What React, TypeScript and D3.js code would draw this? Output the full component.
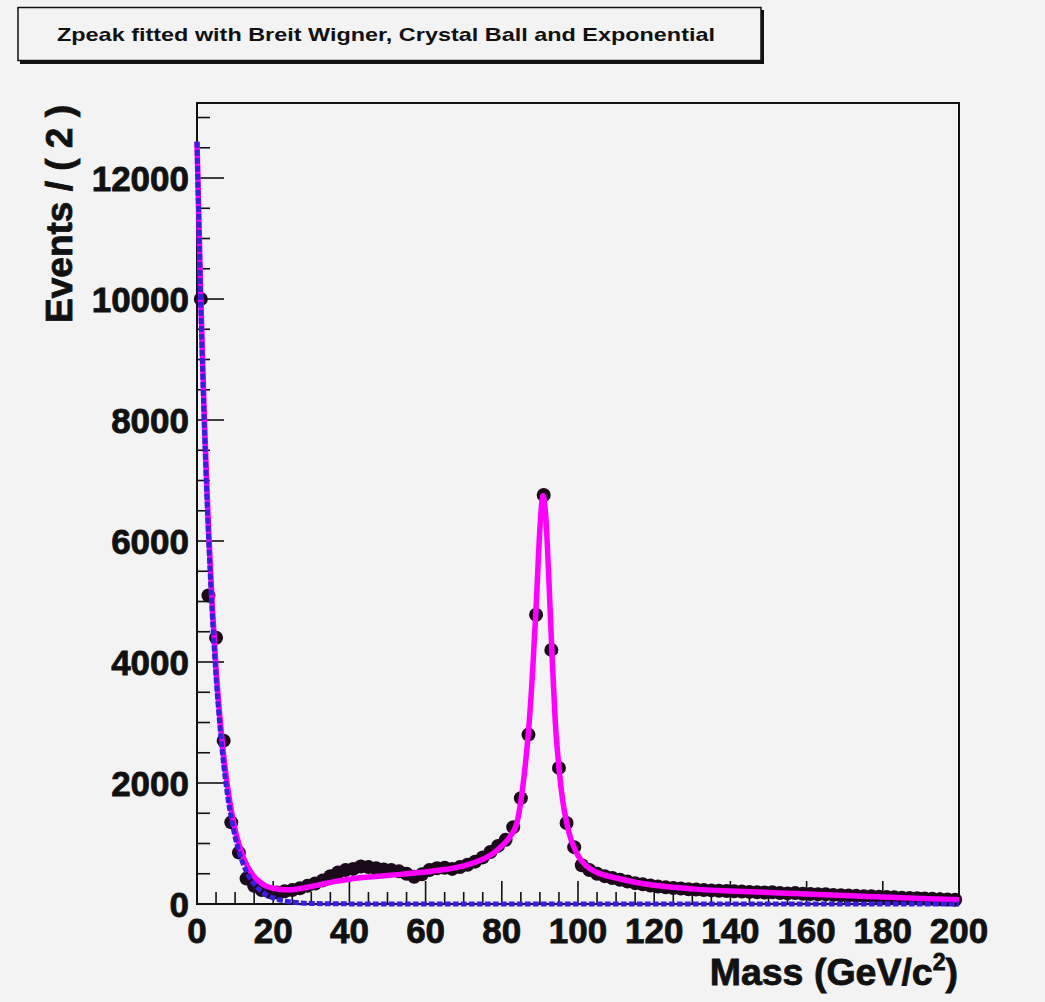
import React from 'react';
import * as d3 from 'd3';

// histogram: 100 bins of width 2 GeV, counts
const binWidth = 2;
const counts = [
  10000, 5100, 4400, 2700, 1350, 850, 420, 300, 230, 200,
  190, 210, 230, 260, 300, 340, 390, 460, 520, 560,
  580, 620, 610, 590, 570, 560, 540, 500, 450, 490,
  560, 590, 600, 580, 610, 650, 700, 770, 860, 960,
  1060, 1270, 1750, 2800, 4780, 6760, 4200, 2250, 1340, 940,
  640, 560, 500, 460, 430, 400, 370, 345, 325, 305,
  290, 275, 265, 255, 245, 240, 230, 225, 220, 215,
  210, 205, 200, 195, 190, 195, 180, 175, 180, 170,
  165, 160, 160, 150, 145, 140, 135, 130, 130, 120,
  115, 110, 105, 100, 95, 90, 85, 80, 75, 70,
];

// total fit (magenta) sampled along the mass axis
const totalFit: [number, number][] = [
  [0, 12600], [1, 10000], [2, 7900], [3, 6250], [4, 4950], [5, 3900], [6, 3100],
  [7, 2450], [8, 1950], [9, 1550], [10, 1230], [11, 990], [12, 800], [13, 650],
  [14, 540], [15, 450], [16, 390], [17, 340], [18, 300], [20, 260], [22, 240],
  [24, 235], [26, 245], [28, 265], [30, 290], [33, 330], [36, 370], [40, 410],
  [45, 445], [50, 470], [55, 500], [60, 530], [65, 570], [70, 630], [73, 690],
  [76, 770], [78, 850], [80, 960], [82, 1100], [84, 1350], [85, 1700], [86, 2200],
  [87, 2850], [88, 3750], [89, 4900], [90, 6200], [90.8, 6750], [91.6, 6350],
  [92.4, 5300], [93.2, 4100], [94, 3050], [95, 2250], [96, 1700], [97, 1350],
  [98, 1100], [99, 930], [100, 800], [102, 640], [105, 520], [110, 430],
  [115, 360], [120, 310], [130, 250], [140, 215], [150, 190], [160, 165],
  [170, 140], [180, 115], [190, 90], [200, 70],
];

// exponential background component (blue dashed)
const bkgFit: [number, number][] = [
  [0, 12600], [1, 9900], [2, 7750], [3, 6100], [4, 4800], [5, 3750], [6, 2950],
  [7, 2300], [8, 1800], [9, 1420], [10, 1110], [11, 870], [12, 680], [14, 420],
  [16, 260], [18, 160], [20, 100], [23, 50], [26, 25], [30, 10], [40, 2],
  [60, 0], [200, 0],
];

const xTicks = [0, 20, 40, 60, 80, 100, 120, 140, 160, 180, 200];
const yTicks = [0, 2000, 4000, 6000, 8000, 10000, 12000];
const title = 'Zpeak fitted with Breit Wigner, Crystal Ball and Exponential';

const font = '"Liberation Sans", Arial, Helvetica, sans-serif';

const App = () => {
  const W = 1045, H = 1002;
  const frame = { left: 197, right: 959, top: 103, bottom: 904 };

  const x = d3.scaleLinear().domain([0, 200]).range([frame.left, frame.right]);
  const y = d3.scaleLinear().domain([0, 13240]).range([frame.bottom, frame.top]);

  const line = d3.line<[number, number]>()
    .x(d => x(d[0]))
    .y(d => y(d[1]))
    .curve(d3.curveMonotoneX);

  const minorX = d3.range(0, 201, 5);
  const minorY = d3.range(0, 13240, 500);

  return (
    <div style={{ position: 'absolute', left: 0, top: 0 }}>
      <svg width={W} height={H} style={{ display: 'block' }}>
        <rect x={0} y={0} width={W} height={H} fill="#f3f3f3" />
        <defs>
          <clipPath id="frameClip">
            <rect x={frame.left - 3} y={frame.top} width={frame.right - frame.left + 3} height={frame.bottom - frame.top + 3} />
          </clipPath>
        </defs>

        {/* title box with shadow */}
        <rect x={20} y={10} width={744} height={54} fill="#111" />
        <rect x={18} y={7.5} width={743} height={53} fill="#f3f3f3" stroke="#111" strokeWidth={1.5} />
        <text x={57} y={41} fontFamily={font} fontWeight="bold" fontSize={19} fill="#111"
          textLength={658} lengthAdjust="spacingAndGlyphs">{title}</text>

        {/* frame */}
        <rect x={frame.left} y={frame.top} width={frame.right - frame.left} height={frame.bottom - frame.top}
          fill="none" stroke="#111" strokeWidth={2} />

        {/* axis ticks */}
        <g stroke="#111" strokeWidth={1.6}>
          {minorX.map(v => (
            <line key={'mx' + v} x1={x(v)} x2={x(v)} y1={frame.bottom} y2={frame.bottom - (v % 20 === 0 ? 23 : 12)} />
          ))}
          {minorY.map(v => (
            <line key={'my' + v} x1={frame.left} x2={frame.left + (v % 2000 === 0 ? 27 : 13)} y1={y(v)} y2={y(v)} />
          ))}
        </g>

        {/* data points with error bars */}
        <g>
          {counts.map((c, i) => {
            const m = i * binWidth + binWidth / 2;
            const e = Math.sqrt(c);
            return (
              <g key={i}>
                <line x1={x(m)} x2={x(m)} y1={y(c - e)} y2={y(c + e)} stroke="#111" strokeWidth={2} />
                <line x1={x(m - 1)} x2={x(m + 1)} y1={y(c)} y2={y(c)} stroke="#111" strokeWidth={2} />
                <circle cx={x(m)} cy={y(c)} r={7} fill="#1a0a1a" />
              </g>
            );
          })}
        </g>

        {/* fit curves */}
        <g clipPath="url(#frameClip)">
          <path d={line(totalFit) || ''} fill="none" stroke="#ff00ff" strokeWidth={5.5} strokeLinejoin="round" />
          <path d={line(bkgFit) || ''} fill="none" stroke="#3a1ee0" strokeWidth={5} strokeDasharray="6 2" />
        </g>

        {/* tick labels */}
        <g fontFamily={font} fontWeight="bold" fontSize={35} fill="#111" stroke="#111" strokeWidth={0.8}>
          {yTicks.map(v => (
            <text key={'yl' + v} x={189} y={y(v) + 12.5} textAnchor="end">{v}</text>
          ))}
          {xTicks.map(v => (
            <text key={'xl' + v} x={x(v)} y={943} textAnchor="middle">{v}</text>
          ))}
        </g>

        {/* axis titles */}
        <text x={958} y={985} textAnchor="end" fontFamily={font} fontWeight="bold" fontSize={37.5} fill="#111"
          stroke="#111" strokeWidth={0.8}>
          Mass (GeV/c<tspan dy={-15} fontSize={23}>2</tspan><tspan dy={15}>)</tspan>
        </text>
        <text transform={`translate(72,105) rotate(-90)`} textAnchor="end" fontFamily={font} fontWeight="bold"
          fontSize={37} fill="#111" stroke="#111" strokeWidth={0.8}>Events / ( 2 )</text>
      </svg>
    </div>
  );
};

export default App;
